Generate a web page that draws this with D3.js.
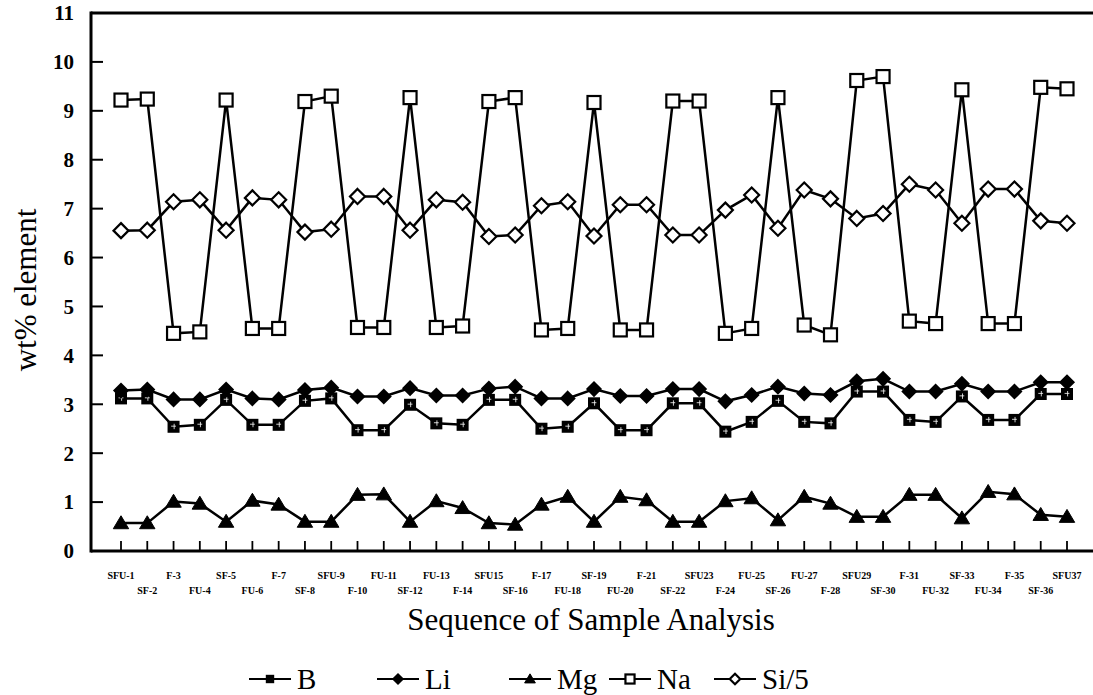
<!DOCTYPE html>
<html>
<head>
<meta charset="utf-8">
<script src="https://cdn.jsdelivr.net/npm/d3@7"></script>
<style>
body { margin: 0; background: #fff; }
svg text { font-family: "Times New Roman", Times, "Liberation Serif", "DejaVu Serif", serif; }
</style>
</head>
<body>
<svg width="1093" height="695"></svg>
<script>
const samples = ["SFU-1","SF-2","F-3","FU-4","SF-5","FU-6","F-7","SF-8","SFU-9","F-10",
    "FU-11","SF-12","FU-13","F-14","SFU15","SF-16","F-17","FU-18","SF-19","FU-20",
    "F-21","SF-22","SFU23","F-24","FU-25","SF-26","FU-27","F-28","SFU29","SF-30",
    "F-31","FU-32","SF-33","FU-34","F-35","SF-36","SFU37"];

const B = [3.12,3.12,2.54,2.58,3.09,2.58,2.58,3.07,3.12,2.47,2.47,2.99,2.61,2.58,3.09,3.09,2.50,2.54,3.02,2.47,
    2.47,3.02,3.02,2.44,2.64,3.07,2.64,2.61,3.26,3.26,2.68,2.64,3.16,2.68,2.68,3.21,3.21];
const Li = [3.28,3.30,3.10,3.10,3.30,3.12,3.10,3.29,3.34,3.16,3.16,3.33,3.18,3.18,3.32,3.36,3.12,3.12,3.31,3.17,
    3.17,3.31,3.31,3.06,3.19,3.36,3.22,3.19,3.47,3.52,3.26,3.26,3.42,3.26,3.26,3.45,3.45];
const Mg = [0.57,0.57,1.01,0.97,0.60,1.03,0.95,0.60,0.60,1.15,1.16,0.60,1.02,0.88,0.57,0.54,0.95,1.11,0.60,1.11,
    1.04,0.60,0.60,1.02,1.08,0.63,1.11,0.97,0.70,0.70,1.15,1.15,0.67,1.21,1.16,0.74,0.70];
const Na = [9.22,9.24,4.45,4.48,9.22,4.55,4.55,9.19,9.30,4.57,4.57,9.27,4.57,4.60,9.19,9.27,4.52,4.55,9.17,4.52,
    4.52,9.20,9.20,4.45,4.55,9.27,4.62,4.42,9.62,9.70,4.70,4.65,9.43,4.65,4.65,9.48,9.45];
const Si5 = [6.55,6.56,7.14,7.18,6.56,7.22,7.18,6.52,6.58,7.25,7.25,6.56,7.18,7.13,6.43,6.46,7.06,7.14,6.44,7.08,
    7.08,6.46,6.46,6.97,7.28,6.60,7.38,7.20,6.80,6.90,7.50,7.38,6.70,7.40,7.40,6.75,6.70];

const yTicks = [0,1,2,3,4,5,6,7,8,9,10,11];

const series = [
    { name: "B", values: B, marker: "boxcross" },
    { name: "Li", values: Li, marker: "diamondFill" },
    { name: "Mg", values: Mg, marker: "triangle" },
    { name: "Na", values: Na, marker: "squareOpen" },
    { name: "Si/5", values: Si5, marker: "diamondOpen" }
];

const svg = d3.select("svg");

const plotLeft = 91, plotTop = 13, plotBottom = 551, plotRight = 1093;

const x = d3.scalePoint().domain(samples).range([121, 1067]);
const y = d3.scaleLinear().domain([0, 11]).range([plotBottom, plotTop]);

// frame: left axis, top border, bottom axis
const frame = svg.append("g").attr("stroke", "#000").attr("stroke-width", 3);
frame.append("line").attr("x1", plotLeft).attr("x2", plotLeft).attr("y1", plotTop - 1.5).attr("y2", plotBottom + 1.5);
frame.append("line").attr("x1", plotLeft).attr("x2", plotRight).attr("y1", plotTop).attr("y2", plotTop);
frame.append("line").attr("x1", plotLeft).attr("x2", plotRight).attr("y1", plotBottom).attr("y2", plotBottom);

// y ticks, pointing inward
const yAxis = svg.append("g");
yAxis.selectAll("line").data(yTicks).enter().append("line")
    .attr("x1", plotLeft).attr("x2", plotLeft + 12)
    .attr("y1", d => y(d)).attr("y2", d => y(d))
    .attr("stroke", "#000").attr("stroke-width", 2);
yAxis.selectAll("text").data(yTicks).enter().append("text")
    .attr("x", 74).attr("y", d => y(d)).attr("dy", "0.35em")
    .attr("text-anchor", "end")
    .attr("font-size", 21).attr("font-weight", "bold")
    .text(d => d);

// x ticks, pointing up
const xAxis = svg.append("g");
xAxis.selectAll("line").data(samples).enter().append("line")
    .attr("x1", d => x(d)).attr("x2", d => x(d))
    .attr("y1", plotBottom).attr("y2", plotBottom - 10)
    .attr("stroke", "#000").attr("stroke-width", 1.8);
xAxis.selectAll("text").data(samples).enter().append("text")
    .attr("x", d => x(d))
    .attr("y", (d, i) => i % 2 === 0 ? 579 : 594)
    .attr("text-anchor", "middle")
    .attr("font-size", 10).attr("font-weight", "bold")
    .text(d => d);

svg.append("text")
    .attr("x", 591).attr("y", 630)
    .attr("text-anchor", "middle").attr("font-size", 31)
    .text("Sequence of Sample Analysis");

svg.append("text")
    .attr("transform", "translate(36, 290) rotate(-90)")
    .attr("text-anchor", "middle").attr("font-size", 31)
    .text("wt% element");

const drawMarker = (g, type, s, detail) => {
    if (type === "boxcross") {
        g.append("rect").attr("x", -s / 2).attr("y", -s / 2).attr("width", s).attr("height", s)
            .attr("fill", "#000");
        if (detail) {
            g.append("path").attr("d", `M${-s * 0.2},${-s * 0.05}H${s * 0.2}M${s * 0.05},${-s * 0.25}V${s * 0.2}`)
                .attr("stroke", "#fff").attr("stroke-width", 0.8);
        }
    } else if (type === "squareOpen") {
        g.append("rect").attr("x", -s / 2).attr("y", -s / 2).attr("width", s).attr("height", s)
            .attr("fill", "#fff").attr("stroke", "#000").attr("stroke-width", 2.2);
    } else if (type === "diamondOpen" || type === "diamondFill") {
        const r = s / 2;
        g.append("path").attr("d", `M0,${-r}L${r},0L0,${r}L${-r},0Z`)
            .attr("fill", type === "diamondOpen" ? "#fff" : "#000")
            .attr("stroke", "#000").attr("stroke-width", 2.2);
    } else if (type === "triangle") {
        const r = s / 2;
        g.append("path").attr("d", `M0,${-r * 1.05}L${r * 1.1},${r * 0.8}L${-r * 1.1},${r * 0.8}Z`)
            .attr("fill", "#000").attr("stroke", "#000").attr("stroke-width", 1);
    }
};

const sizes = { boxcross: 12, diamondFill: 13, triangle: 14, squareOpen: 13, diamondOpen: 15 };

const line = d3.line().x((d, i) => x(samples[i])).y(d => y(d));

series.forEach(s => {
    const g = svg.append("g");
    g.append("path").datum(s.values).attr("d", line)
        .attr("fill", "none").attr("stroke", "#000").attr("stroke-width", 2.5);
    g.selectAll("g").data(s.values).enter().append("g")
        .attr("transform", (d, i) => `translate(${x(samples[i])},${y(d)})`)
        .each(function () { drawMarker(d3.select(this), s.marker, sizes[s.marker], true); });
});

// legend
const legendX = [270, 398, 530, 630, 735];
const legend = svg.selectAll(".legend").data(series).enter().append("g")
    .attr("class", "legend")
    .attr("transform", (d, i) => `translate(${legendX[i]}, 679)`);
legend.append("line").attr("x1", -21).attr("x2", 21)
    .attr("stroke", "#000").attr("stroke-width", 2);
legend.append("g").each(function (d) {
    drawMarker(d3.select(this), d.marker, sizes[d.marker] * 0.7, false);
});
legend.append("text").attr("x", 27).attr("y", 10)
    .attr("font-size", 29)
    .text(d => d.name);
</script>
</body>
</html>
